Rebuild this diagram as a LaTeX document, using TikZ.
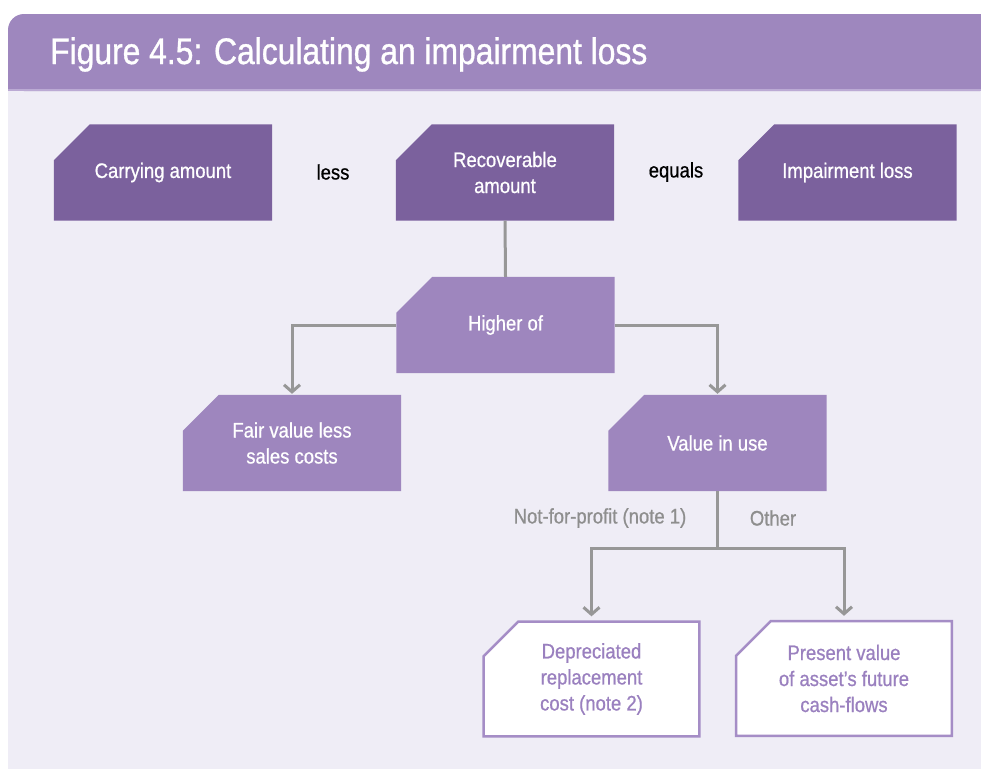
\documentclass[tikz,border=0pt]{standalone}
\usepackage{fontspec}
\setmainfont{Liberation Sans}[FakeStretch=0.88, FakeBold=0.7]
\newfontfamily\titlefont{Liberation Sans}[FakeStretch=0.86, FakeBold=0.9]
\usetikzlibrary{arrows.meta}
\definecolor{hdr}{HTML}{9E87BE}
\definecolor{hdrline}{HTML}{BBAAD4}
\definecolor{bgc}{HTML}{EFEDF6}
\definecolor{dark}{HTML}{7B619D}
\definecolor{mid}{HTML}{9E86BE}
\definecolor{wborder}{HTML}{A58DC6}
\definecolor{wtext}{HTML}{9A80BF}
\definecolor{conn}{HTML}{979797}
\definecolor{lbl}{HTML}{8E8E8E}
\pgfdeclarelayer{bglayer}
\pgfdeclarelayer{boxlayer}
\pgfsetlayers{bglayer,boxlayer,main}
\tikzset{
  boxnode/.style={rectangle, inner sep=0pt, minimum width=218pt, minimum height=96pt,
    align=center, text=white, font=\fontsize{21}{26}\selectfont},
  wboxnode/.style={boxnode, minimum height=117pt, text=wtext},
  plain/.style={font=\fontsize{21}{26}\selectfont, text=black},
  graylbl/.style={font=\fontsize{21}{26}\selectfont, text=lbl},
  conline/.style={draw=conn, line width=3pt},
  conarrow/.style={conline, -{Straight Barb[length=7pt,width=16pt,line width=3pt]}},
}
\begin{document}
\begin{tikzpicture}[x=1pt,y=-1pt]
\clip (0,0) rectangle (981,769);
\begin{pgfonlayer}{bglayer}
  \fill[white] (0,0) rectangle (981,769);
  \fill[bgc] (8,90) rectangle (981,769);
  \fill[hdr, rounded corners=16pt] (8,91) -- (8,14) -- (996,14) -- (996,91) -- cycle;
  \fill[hdr] (8,60) rectangle (990,91);
  \fill[hdrline] (8,89) rectangle (981,91);
\end{pgfonlayer}

\node[anchor=base west, inner sep=0pt, text=white, font=\titlefont\fontsize{37}{40}\selectfont] (title) at (50,64) {Figure 4.5: Calculating an impairment loss};

\node[boxnode] (ca) at (163,172.5) {Carrying amount};
\node[plain] (less) at (333,172) {less};
\node[boxnode] (ra) at (505,172.5) {Recoverable\\amount};
\node[plain] (equals) at (676,172) {equals};
\node[boxnode] (il) at (847.5,172.5) {Impairment loss};

\node[boxnode] (ho) at (505.5,325) {Higher of};
\node[boxnode] (fv) at (292,443) {Fair value less\\sales costs};
\node[boxnode] (vu) at (717.5,443) {Value in use};

\node[wboxnode] (dr) at (591.5,679) {Depreciated\\replacement\\cost (note 2)};
\node[wboxnode] (pv) at (844,678.5) {Present value\\of asset’s future\\cash-flows};

\node[graylbl] (nfp) at (600,518) {Not-for-profit (note 1)};
\node[graylbl] (oth) at (773,518) {Other};

\begin{pgfonlayer}{boxlayer}
  \foreach \n/\c in {ca/dark, ra/dark, il/dark, ho/mid, fv/mid, vu/mid}{
    \fill[\c] (\n.south west) -- ([yshift=-36pt]\n.north west) -- ([xshift=36pt]\n.north west)
      -- (\n.north east) -- (\n.south east) -- cycle;
  }
  \foreach \n in {dr, pv}{
    \filldraw[fill=white, draw=wborder, line width=2.5pt]
      ([shift={(1.25pt,1.25pt)}]\n.south west) -- ([shift={(1.25pt,-36pt)}]\n.north west)
      -- ([shift={(36pt,-1.25pt)}]\n.north west) -- ([shift={(-1.25pt,-1.25pt)}]\n.north east)
      -- ([shift={(-1.25pt,1.25pt)}]\n.south east) -- cycle;
  }
\end{pgfonlayer}

\coordinate (split) at (717.5,548);
\draw[conline] (ra.south) -- (ho.north);
\draw[conarrow] (ho.west) -| ([yshift=1pt]fv.north);
\draw[conarrow] (ho.east) -| ([yshift=1pt]vu.north);
\draw[conline] (vu.south) -- (split);
\draw[conarrow, shorten >=4pt] (split) -| (dr.north);
\draw[conarrow, shorten >=4pt] (split) -| (pv.north);
\end{tikzpicture}
\end{document}
